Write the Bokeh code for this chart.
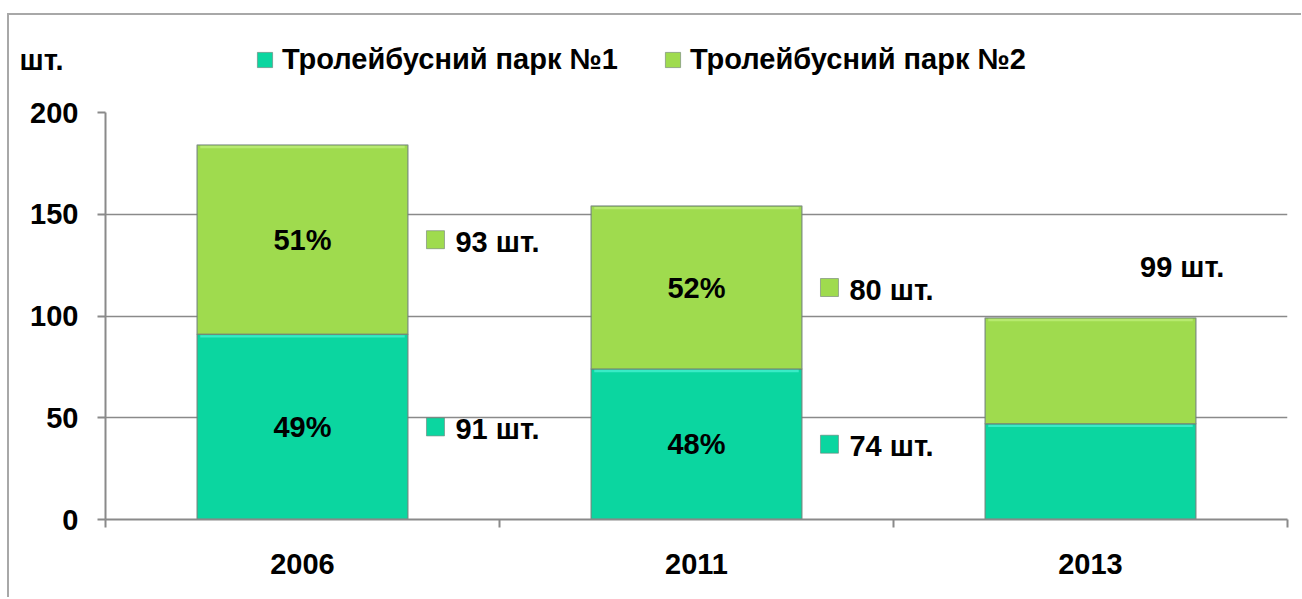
from bokeh.plotting import figure
from bokeh.layouts import column
from bokeh.models import Range1d, FixedTicker, Legend, LegendItem
from bokeh.embed import file_html
from bokeh.resources import INLINE
from bokeh.core.properties import value

# ---- data ----
years = ["2006", "2011", "2013"]
park1 = [91, 74, 47]
park2 = [93, 80, 52]
pct1 = ["49%", "48%", ""]
pct2 = ["51%", "52%", ""]
labels1 = ["91 шт.", "74 шт.", ""]
labels2 = ["93 шт.", "80 шт.", ""]
total_labels = ["", "", "99 шт."]
series_names = ["Тролейбусний парк №1", "Тролейбусний парк №2"]
y_ticks = [0, 50, 100, 150, 200]
unit_label = "шт."

# ---- style ----
FONT = "Liberation Sans"
FS = "29px"
C1 = "#0bd6a0"
C2 = "#9fdb4e"
C1_HI = "#45f0cf"
C2_HI = "#bdee78"
EDGE = "#6f7f78"
GRID = "#8a8a8a"
BAR_W = 0.535
W = 1292
TOP_H = 80
MAIN_H = 502
LEFT = 96
RIGHT = 14

xs = [i + 0.5 for i in range(len(years))]
tops = [a + b for a, b in zip(park1, park2)]

# ---- header strip: unit label (as an axis label) + legend ----
head = figure(width=W, height=TOP_H, output_backend="svg", toolbar_location=None,
              x_range=Range1d(0, 1), y_range=Range1d(0, TOP_H), x_axis_type=None,
              min_border=0, min_border_left=LEFT, min_border_right=RIGHT)
head.outline_line_color = None
head.grid.visible = False
head.background_fill_color = "white"
head.border_fill_color = "white"
hy = head.yaxis[0]
hy.ticker = FixedTicker(ticks=[36])
hy.major_label_overrides = {36: unit_label}
hy.axis_line_color = None
hy.major_tick_line_color = None
hy.minor_tick_line_color = None
hy.major_tick_out = 0
hy.major_tick_in = 0
hy.major_label_standoff = 42
hy.major_label_text_font = FONT
hy.major_label_text_font_style = "bold"
hy.major_label_text_font_size = FS
hy.major_label_text_color = "black"
# legend proxies (kept outside the visible header range)
k1 = head.vbar(x=[0.5], bottom=[-20], top=[-10], width=0.1, fill_color=C1,
               line_color=EDGE, line_width=1, line_alpha=0.6)
k2 = head.vbar(x=[0.5], bottom=[-20], top=[-10], width=0.1, fill_color=C2,
               line_color=EDGE, line_width=1, line_alpha=0.6)
legend = Legend(items=[LegendItem(label=series_names[0], renderers=[k1]),
                       LegendItem(label=series_names[1], renderers=[k2])],
                orientation="horizontal", location=(150, 19),
                glyph_width=19, glyph_height=19, label_standoff=8, spacing=45,
                padding=0, margin=0, border_line_color=None, background_fill_alpha=0,
                label_text_font=FONT, label_text_font_style="bold",
                label_text_font_size=FS, label_text_color="black")
head.add_layout(legend, "center")

# ---- main chart ----
p = figure(width=W, height=MAIN_H, output_backend="svg", toolbar_location=None,
           x_range=Range1d(0, len(years)), y_range=Range1d(0, 200),
           min_border_left=LEFT, min_border_right=RIGHT, min_border_top=17,
           min_border_bottom=MAIN_H - 17 - 407)
p.outline_line_color = None
p.background_fill_color = "white"
p.border_fill_color = "white"

p.vbar(x=xs, bottom=0, top=park1, width=BAR_W, fill_color=C1,
       line_color=EDGE, line_width=1.5, line_alpha=0.7)
p.vbar(x=xs, bottom=park1, top=tops, width=BAR_W, fill_color=C2,
       line_color=EDGE, line_width=1.5, line_alpha=0.7)
# light bevel strip along the top of each segment
p.vbar(x=xs, bottom=[v - 1.6 for v in park1], top=[v - 0.4 for v in park1],
       width=BAR_W * 0.97, fill_color=C1_HI, fill_alpha=0.8, line_color=None)
p.vbar(x=xs, bottom=[v - 1.6 for v in tops], top=[v - 0.4 for v in tops],
       width=BAR_W * 0.97, fill_color=C2_HI, fill_alpha=0.8, line_color=None)

# percent labels in segments
for vals_lo, vals_hi, txts in ((
        [0] * len(park1), park1, pct1), (park1, tops, pct2)):
    idx = [i for i, t in enumerate(txts) if t]
    p.text(x=[xs[i] for i in idx], y=[(vals_lo[i] + vals_hi[i]) / 2 for i in idx],
           text=[txts[i] for i in idx], text_align="center", text_baseline="middle",
           text_font=value(FONT), text_font_style="bold", text_font_size=FS, text_color="black")

# value labels with legend keys beside bars
for vals_lo, vals_hi, txts, col in ((
        [0] * len(park1), park1, labels1, C1), (park1, tops, labels2, C2)):
    idx = [i for i, t in enumerate(txts) if t]
    mx = [xs[i] + BAR_W / 2 + 0.07 for i in idx]
    my = [(vals_lo[i] + vals_hi[i]) / 2 for i in idx]
    p.scatter(x=mx, y=my, marker="square", size=18, fill_color=col,
              line_color=EDGE, line_width=1, line_alpha=0.6)
    p.text(x=mx, y=my, text=[txts[i] for i in idx], x_offset=20, y_offset=2,
           text_align="left", text_baseline="middle",
           text_font=value(FONT), text_font_style="bold", text_font_size=FS, text_color="black")

# total label
idx = [i for i, t in enumerate(total_labels) if t]
p.text(x=[xs[i] + BAR_W / 2 - 0.035 for i in idx], y=[tops[i] + 25 for i in idx],
       text=[total_labels[i] for i in idx], text_align="center", text_baseline="middle",
       text_font=value(FONT), text_font_style="bold", text_font_size=FS, text_color="black")

# axes
p.xgrid.visible = False
p.ygrid.grid_line_color = GRID
p.ygrid.grid_line_width = 1.5
p.ygrid.ticker = FixedTicker(ticks=y_ticks)

yax = p.yaxis[0]
yax.ticker = FixedTicker(ticks=y_ticks)
yax.axis_line_color = GRID
yax.axis_line_width = 2
yax.major_tick_line_color = GRID
yax.major_tick_line_width = 2
yax.major_tick_out = 8
yax.major_tick_in = 0
yax.minor_tick_line_color = None
yax.major_label_standoff = 19
yax.major_label_text_font = FONT
yax.major_label_text_font_style = "bold"
yax.major_label_text_font_size = FS
yax.major_label_text_color = "black"

xax = p.xaxis[0]
xax.ticker = FixedTicker(ticks=xs, minor_ticks=list(range(len(years) + 1)))
xax.major_label_overrides = {x: y for x, y in zip(xs, years)}
xax.axis_line_color = GRID
xax.axis_line_width = 2
xax.major_tick_line_color = None
xax.major_tick_out = 0
xax.major_tick_in = 0
xax.minor_tick_line_color = GRID
xax.minor_tick_line_width = 2
xax.minor_tick_out = 8
xax.minor_tick_in = 0
xax.major_label_standoff = 26
xax.major_label_text_font = FONT
xax.major_label_text_font_style = "bold"
xax.major_label_text_font_size = FS
xax.major_label_text_color = "black"

layout = column(head, p, spacing=0)
layout.styles = {"border-top": "2px solid #a8a8a8", "border-left": "2px solid #a8a8a8",
                 "transform": "translate(7px, 13px)"}

open("out.html", "w").write(file_html(layout, INLINE))
